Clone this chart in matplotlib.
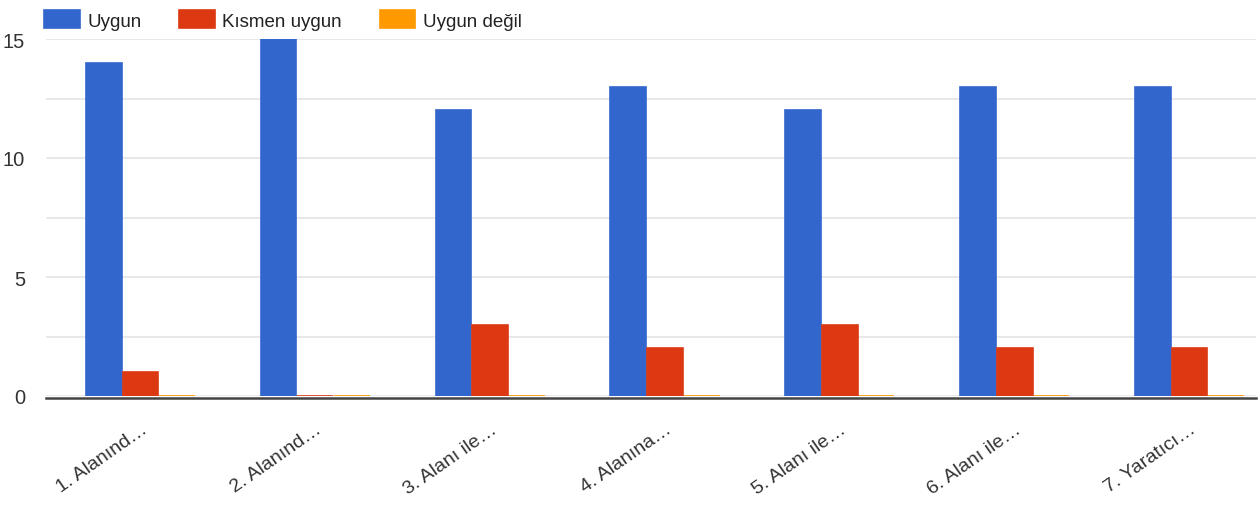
import matplotlib
matplotlib.use("Agg")
import matplotlib.pyplot as plt
import numpy as np

plt.rcParams["font.family"] = ["Liberation Sans", "DejaVu Sans"]

categories = ["1. Alanınd…", "2. Alanınd…", "3. Alanı ile…", "4. Alanına…",
              "5. Alanı ile…", "6. Alanı ile…", "7. Yaratıcı…"]
uygun = [14, 15, 12, 13, 12, 13, 13]
kismen = [1, 0, 3, 2, 3, 2, 2]
degil = [0, 0, 0, 0, 0, 0, 0]
series = [("Uygun", uygun, "#3366CC"),
          ("Kısmen uygun", kismen, "#DC3912"),
          ("Uygun değil", degil, "#FF9900")]

fig = plt.figure(figsize=(12.59, 5.06), dpi=100)
ax = fig.add_axes([46 / 1259, 109 / 506, 1210 / 1259, 357 / 506])

x = np.arange(len(categories))
w = 0.21
for i, (name, vals, col) in enumerate(series):
    ax.bar(x + (i - 1) * w, vals, w * 0.97, color=col, label=name,
           edgecolor=col, linewidth=1.2, zorder=3)

ax.set_xlim(-0.54, 6.38)
ax.set_ylim(0, 15)
ax.set_yticks([0, 5, 10, 15])
ax.set_yticks(np.arange(0, 15.1, 2.5), minor=True)
ax.yaxis.grid(True, which="both", color="#e4e4e4", lw=1.2, zorder=0)
ax.tick_params(axis="y", which="both", length=0, pad=15, labelsize=14.5,
               labelcolor="#333333")
for s in ["top", "left", "right"]:
    ax.spines[s].set_visible(False)
ax.spines["bottom"].set_position(("outward", 1.3))
ax.spines["bottom"].set_color("#444444")
ax.spines["bottom"].set_linewidth(1.8)

ax.set_xticks(x)
ax.set_xticklabels(categories, rotation=35, ha="right", va="top",
                   rotation_mode="anchor", fontsize=14, color="#333333")
ax.tick_params(axis="x", length=0, pad=16)

ax.legend(loc="lower left", bbox_to_anchor=(-0.009, 1.0), ncol=3, frameon=False,
          fontsize=13.5, handlelength=1.9, handleheight=1.1, handletextpad=0.4,
          columnspacing=2.0, borderaxespad=0.4, borderpad=0.1, labelcolor="#222222")

fig.savefig("out.png", dpi=100)
